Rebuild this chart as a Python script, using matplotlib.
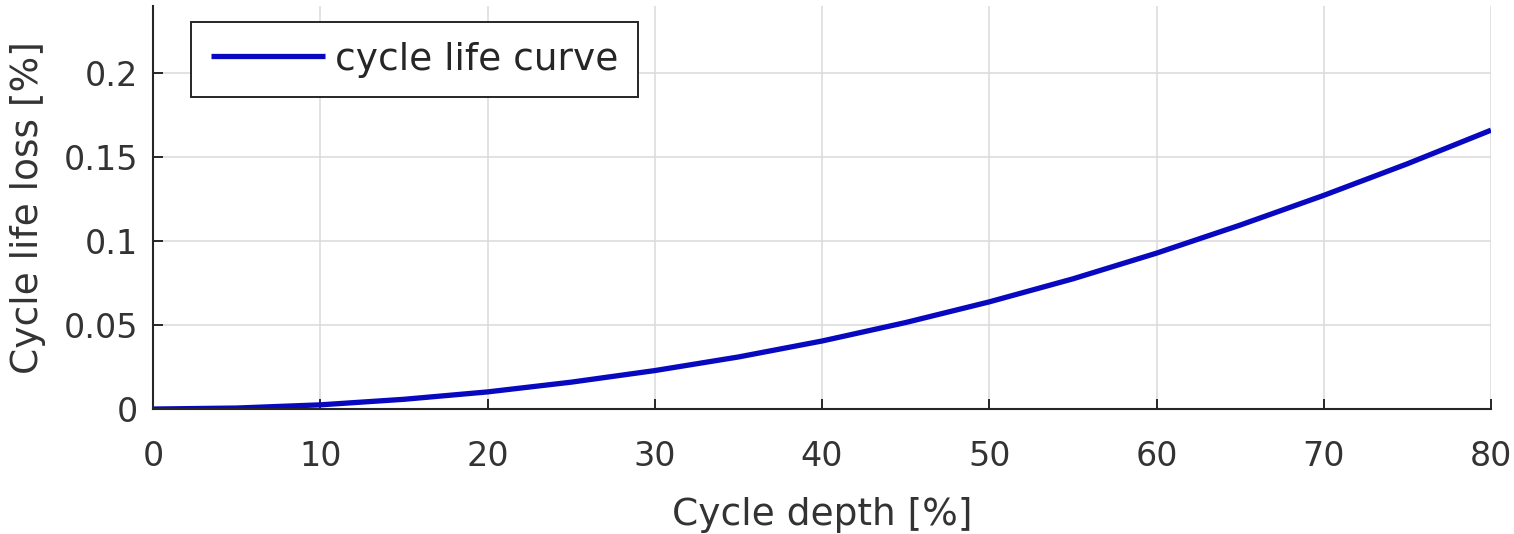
import matplotlib
matplotlib.use("Agg")
import matplotlib.pyplot as plt

# Cycle life loss versus cycle depth
depth = [0, 5, 10, 15, 20, 25, 30, 35, 40, 45, 50, 55, 60, 65, 70, 75, 80]
life_loss = [0.0, 0.0006, 0.0025, 0.0058, 0.0102, 0.0160, 0.0229, 0.0310,
             0.0405, 0.0515, 0.0638, 0.0775, 0.0928, 0.1095, 0.1272, 0.1460,
             0.1660]

x_ticks = [0, 10, 20, 30, 40, 50, 60, 70, 80]
y_ticks = [0, 0.05, 0.1, 0.15, 0.2]
y_tick_labels = ["0", "0.05", "0.1", "0.15", "0.2"]

plt.rcParams["font.family"] = ["DejaVu Sans"]

fig = plt.figure(figsize=(15.14, 5.34), dpi=100)
ax = fig.add_axes([0.1011, 0.2340, 0.8837, 0.7550])

ax.plot(depth, life_loss, color="#0808C0", linewidth=3.8,
        solid_capstyle="butt", label="cycle life curve")

ax.set_xlim(0, 80)
ax.set_ylim(0, 0.24)
ax.set_xticks(x_ticks)
ax.set_yticks(y_ticks)
ax.set_yticklabels(y_tick_labels)

ax.grid(True, color="#DADADA", linewidth=1.1)
ax.set_axisbelow(True)

for side in ("top", "right"):
    ax.spines[side].set_visible(False)
for side in ("left", "bottom"):
    ax.spines[side].set_color("#262626")
    ax.spines[side].set_linewidth(1.5)

ax.tick_params(axis="both", direction="in", length=7, width=1.4,
               colors="#262626", labelcolor="#333333", labelsize=24)
ax.tick_params(axis="x", pad=22)
ax.tick_params(axis="y", pad=11)

ax.set_xlabel("Cycle depth [%]", fontsize=27, color="#333333")
ax.set_ylabel("Cycle life loss [%]", fontsize=27, color="#333333")
ax.xaxis.set_label_coords(0.5, -0.263)
ax.xaxis.label.set_va("center")
ax.yaxis.set_label_coords(-0.0934, 0.5)
ax.yaxis.label.set_va("center")

leg = ax.legend(loc="upper left", bbox_to_anchor=(0.0284, 0.960),
                borderaxespad=0, fontsize=27, handlelength=3.05,
                handletextpad=0.27, borderpad=0.52, fancybox=False,
                framealpha=1, edgecolor="#262626")
leg.get_frame().set_linewidth(1.4)
for t in leg.get_texts():
    t.set_color("#262626")

fig.savefig("out.png", dpi=100, facecolor="white")
